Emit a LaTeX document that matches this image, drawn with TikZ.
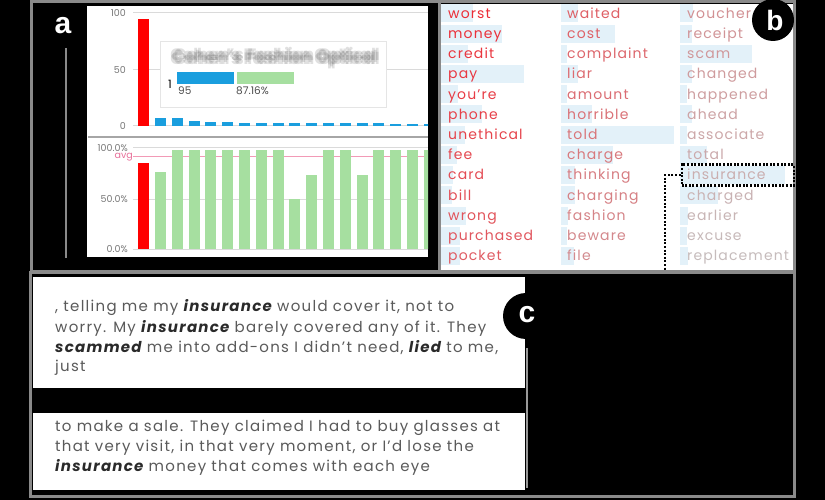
\documentclass[tikz,border=0pt]{standalone}
\usepackage{fontspec}
\setmainfont{Poppins}
\newfontfamily\labfont{Liberation Sans}
\newfontfamily\wordfont[LetterSpace=8]{Poppins}
\newfontfamily\txtfont[LetterSpace=8.5]{Poppins}
\definecolor{framegrey}{HTML}{8A8A8A}
\definecolor{gridgrey}{HTML}{DADADA}
\definecolor{axisgrey}{HTML}{777777}
\definecolor{barred}{HTML}{FF0000}
\definecolor{barblue}{HTML}{1A9EDE}
\definecolor{bargreen}{HTML}{A6DFA0}
\definecolor{avgpink}{HTML}{F29AB6}
\definecolor{avgtext}{HTML}{E8709A}
\definecolor{wordbar}{HTML}{E3F1F9}
\definecolor{wred}{RGB}{236,45,55}
\definecolor{wgrey}{RGB}{198,188,188}
\definecolor{ctext}{HTML}{5A5A5A}
\definecolor{cbold}{HTML}{2A2A2A}
\tikzset{
  frame/.style={draw=framegrey, line width=3pt},
  grid/.style={draw=gridgrey, line width=1pt},
  axlab/.style={font=\fontsize{9.5pt}{10pt}\selectfont, text=axisgrey, anchor=east, inner sep=0pt},
  panellab/.style={font=\labfont\bfseries\fontsize{30pt}{30pt}\selectfont, text=white, inner sep=0pt},
  wordtxt/.style={font=\wordfont\fontsize{14pt}{16pt}\selectfont, anchor=base west, inner sep=0pt},
  ctxt/.style={font=\txtfont\fontsize{15pt}{18pt}\selectfont, text=ctext, anchor=base west, inner sep=0pt},
  dotline/.style={draw=black, line width=2.2pt, dash pattern=on 2pt off 1.6pt},
}
\newcommand{\kw}[1]{\textcolor{cbold}{\bfseries\itshape #1}}
\newcommand{\ttitle}{Cohen's Fashion Optical}
\newcommand{\bcopy}[2]{\makebox[0pt]{\kern#1\raisebox{#2}{\ttitle}\kern-#1}}
\begin{document}
\begin{tikzpicture}[x=1pt,y=-1pt]
\fill[black] (0,0) rectangle (825,500);
\useasboundingbox (0,0) rectangle (825,500);

% ---------------- panel a ----------------
\fill[white] (87,6) rectangle (428,257);
\draw[frame] (31.5,1.5) rectangle (439.5,271.5);
\draw[draw=framegrey, line width=2pt] (66,48) -- (66,258);
\node[panellab] (la) at (63,26) {a};

% top chart grid
\foreach \gy/\gl [count=\i] in {13/100,70/50,126/0}{
  \draw[grid] (133,\gy) -- (428,\gy);
  \node[axlab] (ta\i) at (126,\gy) {\gl};
}
\fill[barred] (138,19) rectangle (149,126);
\begin{scope}
\clip (87,0) rectangle (428,260);
\foreach \h [count=\i from 0] in {7.7,7.7,5.3,4.3,4.3,3,3,3,3,3,3,3,3,3,2,2,2}{
  \fill[barblue] (155+16.8*\i,126-\h) rectangle (166+16.8*\i,126);
}
\end{scope}

% tooltip
\fill[white] (160.7,42) rectangle (386.7,108);
\draw[draw=black!10, line width=1pt] (160.7,42) rectangle (386.7,108);
\node[text=black!60, text opacity=0.2, font=\bfseries\fontsize{16.5pt}{17pt}\selectfont, inner sep=0pt] (title) at (275,58)
  {\bcopy{0pt}{0pt}\bcopy{-1.8pt}{-1.8pt}\bcopy{1.8pt}{1.8pt}\bcopy{-1.8pt}{1.8pt}\bcopy{1.8pt}{-1.8pt}};
\fill[barblue] (177,72) rectangle (234,84);
\fill[bargreen] (237,72) rectangle (294,84);
\node[font=\fontsize{11.5pt}{12pt}\selectfont, anchor=base west, inner sep=0pt] (one) at (168,89) {1};
\node[font=\fontsize{10.5pt}{12pt}\selectfont, text=black!70, anchor=base west, inner sep=0pt] (n95) at (178,95) {95};
\node[font=\fontsize{10.5pt}{12pt}\selectfont, text=black!70, anchor=base west, inner sep=0pt] (npct) at (236,95) {87.16\%};

% divider
\draw[draw=black!35, line width=2pt] (88,137) -- (428,137);

% bottom chart
\foreach \gy/\gl [count=\i] in {148/100.0\%,199/50.0\%,249/0.0\%}{
  \draw[grid] (133,\gy) -- (428,\gy);
  \node[axlab] (ba\i) at (128,\gy) {\gl};
}
\draw[draw=avgpink, line width=1pt] (133,157) -- (428,157);
\node[axlab, text=avgtext] (avg) at (133,157) {avg};
\fill[barred] (138,163) rectangle (149,249);
\begin{scope}
\clip (87,0) rectangle (428,260);
\foreach \t [count=\i from 0] in {172,150,150,150,150,150,150,150,199,175,150,150,175,150,150,150,150}{
  \fill[bargreen] (155+16.8*\i,\t) rectangle (166+16.8*\i,249);
}
\end{scope}

% ---------------- panel b ----------------
\fill[white] (441,4) rectangle (793,270);
\draw[frame] (439.5,1.5) rectangle (794.5,271.5);
\foreach \cx/\bx/\wl [count=\c from 0] in {
  448/441/{worst/473,money/502,credit/468,pay/524,you’re/458,phone/482,unethical/465,fee/457,card/453,bill/452,wrong/466,purchased/460,pocket/460},
  567/561/{waited/578,cost/615,complaint/567,liar/578,amount/567,horrible/592,told/674,charge/613,thinking/575,charging/575,fashion/568,beware/567,file/574},
  687/680/{voucher/693,receipt/692,scam/752,changed/692,happened/687,ahead/692,associate/687,total/707,insurance/785,charged/718,earlier/688,excuse/687,replacement/688}}{
  \foreach \w/\e [count=\r from 0] in \wl {
    \pgfmathsetmacro\yc{13.5+20.2*\r}
    \pgfmathtruncatemacro\pct{100-100*(\c*13+\r)/38}
    \colorlet{wc}{wred!\pct!wgrey}
    \fill[wordbar] (\bx,\yc-9) rectangle (\e,\yc+9);
    \node[wordtxt, text=wc] (w-\c-\r) at (\cx,\yc+4.8) {\w};
  }
}
\fill[black] (773,20) circle (21);
\node[panellab, font=\labfont\bfseries\fontsize{28pt}{28pt}\selectfont] (lb) at (775,20) {b};

% highlight box and connector
\node[dotline, draw, fill=none, minimum width=112pt, minimum height=21pt, anchor=north west, inner sep=0pt] (insbox) at (680.5,163.5) {};
\coordinate (cend) at (665,272);
\draw[dotline] (insbox.west) -| (cend);

% ---------------- panel c ----------------
\draw[frame] (30,272) rectangle (794.5,496.5);
\fill[white] (33,277) rectangle (525,388);
\fill[white] (33,413) rectangle (525,490);
\draw[draw=black!40, line width=2pt] (527,348) -- (527,488);
\node[ctxt] (c1) at (55,311.5) {, telling me my \kw{insurance} would cover it, not to};
\node[ctxt] (c2) at (55,332) {worry. My \kw{insurance} barely covered any of it. They};
\node[ctxt] (c3) at (55,352) {\kw{scammed} me into add-ons I didn’t need, \kw{lied} to me,};
\node[ctxt] (c4) at (55,371.5) {just};
\node[ctxt] (c5) at (55,431) {to make a sale. They claimed I had to buy glasses at};
\node[ctxt] (c6) at (55,451) {that very visit, in that very moment, or I’d lose the};
\node[ctxt] (c7) at (55,471) {\kw{insurance} money that comes with each eye};
\fill[black] (526,316) circle (23);
\node[panellab, font=\labfont\bfseries\fontsize{30pt}{30pt}\selectfont] (lc) at (527,315) {c};
\end{tikzpicture}
\end{document}
